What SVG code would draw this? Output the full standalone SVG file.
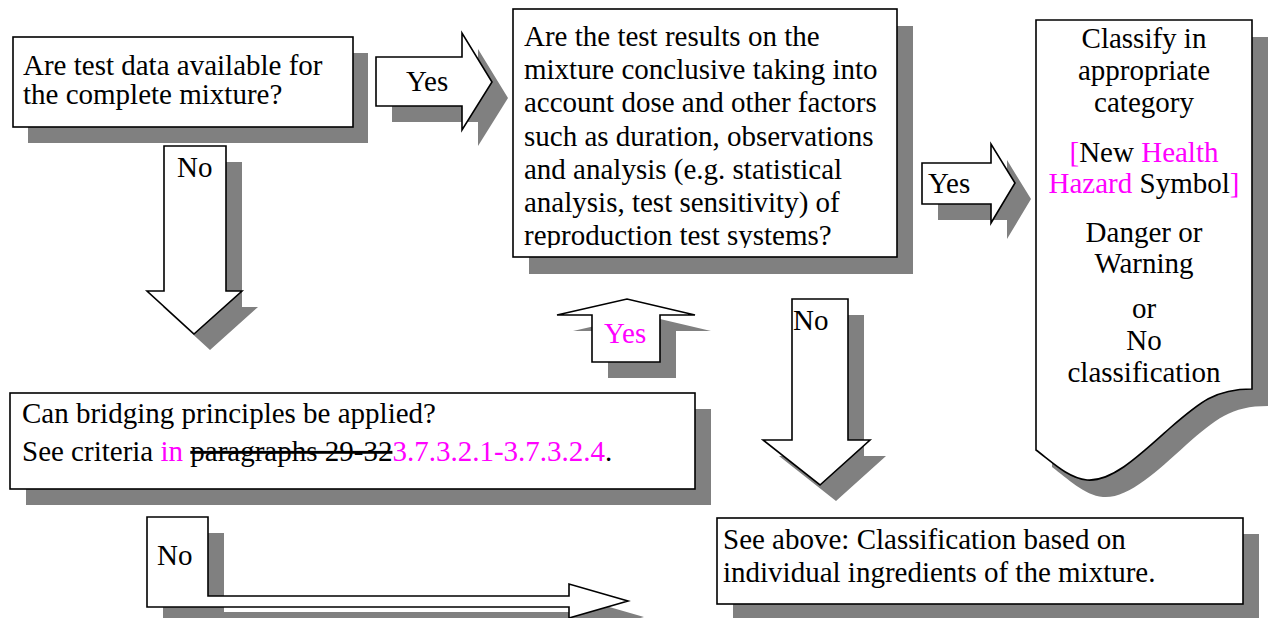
<svg xmlns="http://www.w3.org/2000/svg" width="1282" height="618" viewBox="0 0 1282 618">
<style>
.sh{fill:#808080;stroke:none}
.bx{fill:#fff;stroke:#000;stroke-width:1.6}
.t{font-family:"Liberation Serif","Times New Roman",serif;font-size:29px;fill:#000}
.m{fill:#ff00ff}
.c{text-anchor:middle}
</style>
<defs>
<clipPath id="c2"><rect x="513" y="9" width="384" height="239"/></clipPath>
<path id="doc" d="M1036,20 L1252,20 L1252,389 C1215,389 1200,402 1170,428 C1140,455 1112,482 1087,480 C1068,478 1052,462 1036,450 Z"/>
</defs>
<rect width="1282" height="618" fill="#fff"/>

<g id="connectors">
  <g id="arrow-yes-1">
    <polygon class="sh" points="392,73 478,73 478,49 508,98 478,146 478,122 392,122"/>
    <polygon class="bx" points="376,57 462,57 462,33 492,82 462,130 462,106 376,106"/>
    <text class="t" x="406" y="91">Yes</text>
  </g>
  <g id="arrow-no-1">
    <polygon class="sh" points="180,162 242,162 242,307 258,307 210,350 163,307 180,307"/>
    <polygon class="bx" points="164,146 226,146 226,291 242,291 194,334 147,291 164,291"/>
    <text class="t" x="177" y="177">No</text>
  </g>
  <g id="arrow-yes-2">
    <polygon class="sh" points="938,179 1007,179 1007,160 1031,199 1007,239 1007,220 938,220"/>
    <polygon class="bx" points="922,163 991,163 991,144 1015,183 991,223 991,204 922,204"/>
    <text class="t" x="928" y="193">Yes</text>
  </g>
  <g id="arrow-yes-up">
    <polygon class="sh" points="608,378 676,378 676,331 711,331 643,315 573,331 608,331"/>
    <polygon class="bx" points="592,362 660,362 660,315 695,315 627,299 557,315 592,315"/>
    <text class="t m" x="604" y="343">Yes</text>
  </g>
  <g id="arrow-no-2">
    <polygon class="sh" points="808,315 864,315 864,456 886,456 836,501 779,456 808,456"/>
    <polygon class="bx" points="792,299 848,299 848,440 870,440 820,485 763,440 792,440"/>
    <text class="t" x="793" y="330">No</text>
  </g>
  <g id="arrow-no-3">
    <polygon class="sh" points="163,533 224,533 224,612 585,612 585,600 644,617 585,634 585,623 163,623"/>
    <polygon class="bx" points="147,517 208,517 208,596 569,596 569,584 628,601 569,618 569,607 147,607"/>
    <text class="t" x="157" y="565">No</text>
  </g>
</g>

<g id="node-test-data">
  <rect class="sh" x="28" y="53" width="340" height="90"/>
  <rect class="bx" x="13" y="37" width="340" height="90"/>
  <text class="t" x="23" y="75">Are test data available for</text>
  <text class="t" x="23" y="104">the complete mixture?</text>
</g>

<g id="node-conclusive">
  <rect class="sh" x="529" y="26" width="384" height="248"/>
  <rect class="bx" x="513" y="9" width="384" height="248"/>
  <g clip-path="url(#c2)">
    <text class="t" x="524" y="46">Are the test results on the</text>
    <text class="t" x="524" y="79.2">mixture conclusive taking into</text>
    <text class="t" x="524" y="112.4">account dose and other factors</text>
    <text class="t" x="524" y="145.6">such as duration, observations</text>
    <text class="t" x="524" y="178.8">and analysis (e.g. statistical</text>
    <text class="t" x="524" y="212">analysis, test sensitivity) of</text>
    <text class="t" x="524" y="245.2">reproduction test systems?</text>
  </g>
</g>

<g id="node-classify">
  <use href="#doc" class="sh" transform="translate(16,17)"/>
  <use href="#doc" class="bx"/>
  <text class="t c" x="1144" y="48">Classify in</text>
  <text class="t c" x="1144" y="80">appropriate</text>
  <text class="t c" x="1144" y="112">category</text>
  <text class="t c" x="1144" y="162"><tspan class="m">[</tspan>New <tspan class="m">Health</tspan></text>
  <text class="t c" x="1144" y="193"><tspan class="m">Hazard</tspan> Symbol<tspan class="m">]</tspan></text>
  <text class="t c" x="1144" y="242">Danger or</text>
  <text class="t c" x="1144" y="273">Warning</text>
  <text class="t c" x="1144" y="318">or</text>
  <text class="t c" x="1144" y="350">No</text>
  <text class="t c" x="1144" y="382">classification</text>
</g>

<g id="node-bridging">
  <rect class="sh" x="26" y="409" width="685" height="96"/>
  <rect class="bx" x="10" y="393" width="685" height="96"/>
  <text class="t" x="22" y="423">Can bridging principles be applied?</text>
  <text class="t" x="22" y="461">See criteria <tspan class="m">in</tspan> <tspan text-decoration="line-through">paragraphs 29-32</tspan><tspan class="m">3.7.3.2.1-3.7.3.2.4</tspan>.</text>
</g>

<g id="node-see-above">
  <rect class="sh" x="733" y="534" width="526" height="86"/>
  <rect class="bx" x="717" y="518" width="526" height="86"/>
  <text class="t" x="723" y="549">See above: Classification based on</text>
  <text class="t" x="723" y="582">individual ingredients of the mixture.</text>
</g>
</svg>
